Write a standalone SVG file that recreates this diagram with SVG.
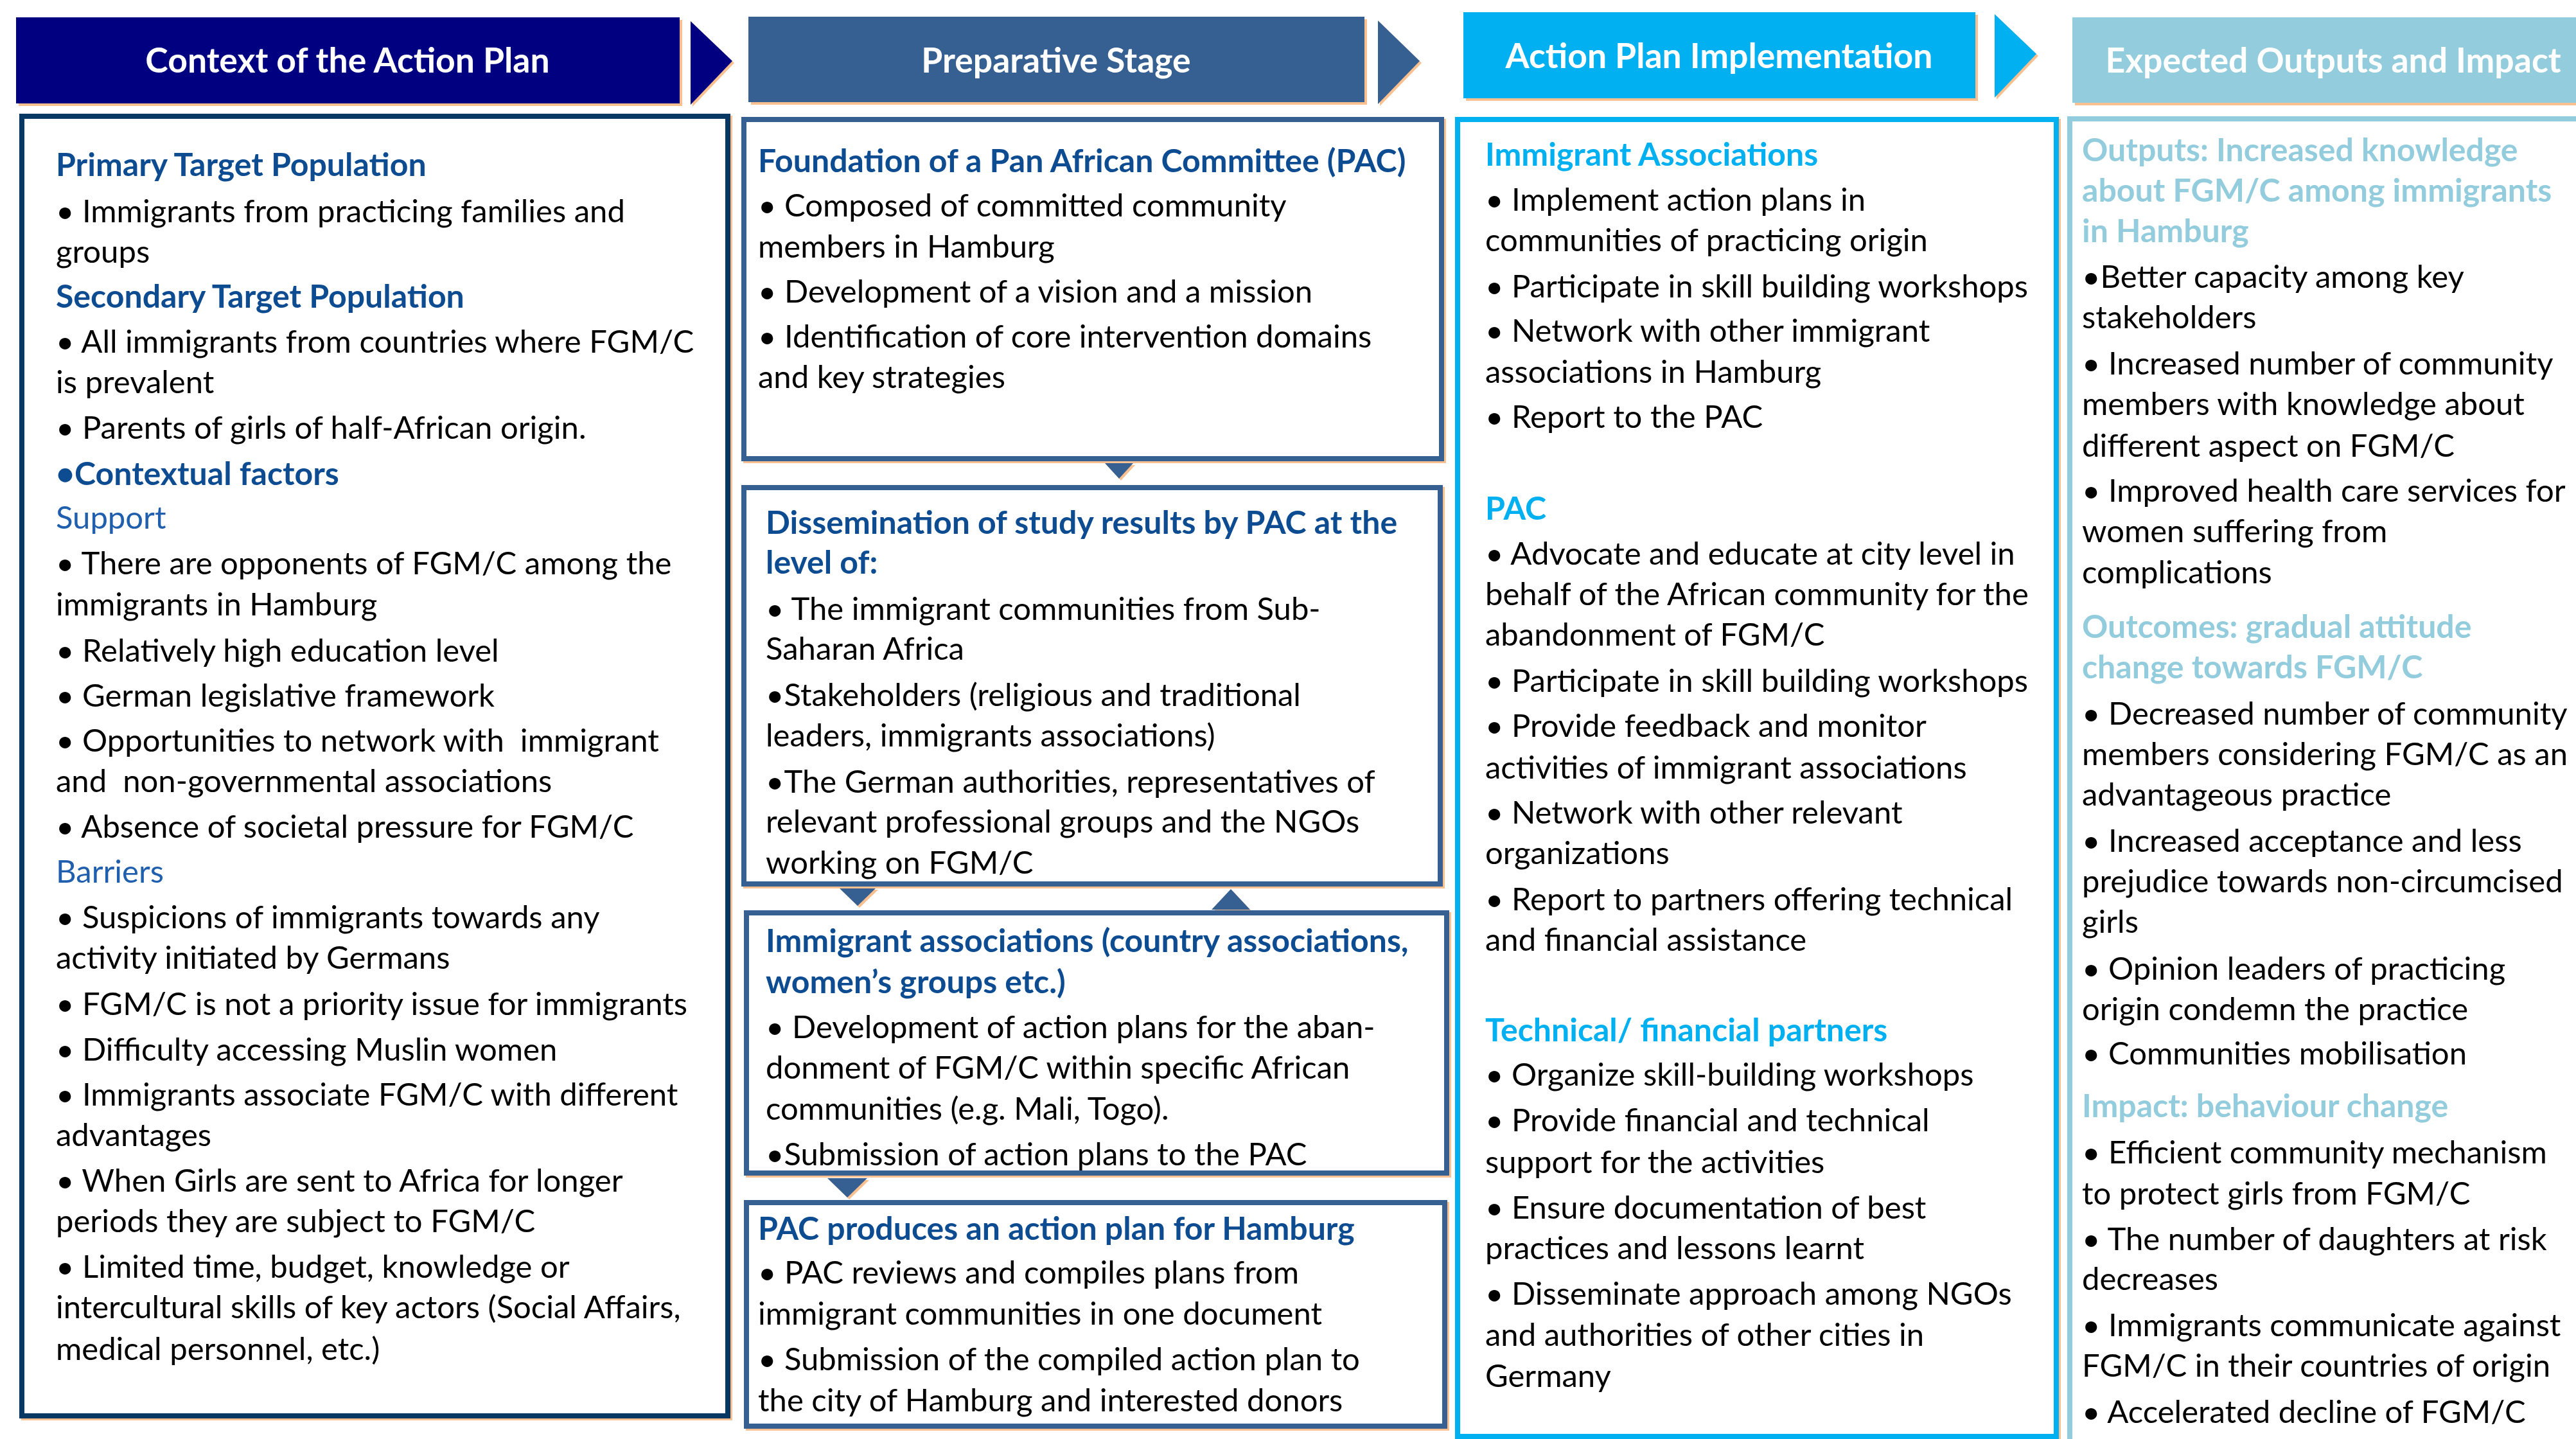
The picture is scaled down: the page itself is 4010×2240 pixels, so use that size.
<svg xmlns="http://www.w3.org/2000/svg" width="4010" height="2240" viewBox="0 0 4010 2240">
<style>
.hd{font-family:Lato,"Liberation Sans",sans-serif;font-weight:700;font-size:53.5px;fill:#fff;text-anchor:middle}
.sh{fill:#FAC090}
.box{fill:#fff;stroke-width:8}
.c{font-family:Lato,"Liberation Sans",sans-serif;font-size:49px;fill:#000}
.cb{font-family:Lato,"Liberation Sans",sans-serif;font-size:50px;font-weight:700;fill:#0E4C92}
.cs{font-family:Lato,"Liberation Sans",sans-serif;font-size:49px;fill:#1F5FAD}
.b3{font-family:Lato,"Liberation Sans",sans-serif;font-size:50px;font-weight:700;fill:#00B0F0}
.b4{font-family:Lato,"Liberation Sans",sans-serif;font-size:50px;font-weight:700;fill:#93CDDD}
</style>
<rect width="4010" height="2240" fill="#fff"/>

<g id="header-context">
<rect class="sh" x="29" y="31" width="1033" height="134"/>
<rect x="25" y="27" width="1033" height="134" fill="#000080"/>
<text class="hd" x="541" y="113">Context of the Action Plan</text>
</g>
<g id="header-preparative">
<rect class="sh" x="1169" y="30" width="959" height="133"/>
<rect x="1165" y="26" width="959" height="133" fill="#376092"/>
<text class="hd" x="1644" y="113">Preparative Stage</text>
</g>
<g id="header-implementation">
<rect class="sh" x="2282" y="23" width="797" height="134"/>
<rect x="2278" y="19" width="797" height="134" fill="#00B0F0"/>
<text class="hd" x="2676" y="106">Action Plan Implementation</text>
</g>
<g id="header-outputs">
<rect class="sh" x="3230" y="31" width="800" height="133"/>
<rect x="3226" y="27" width="800" height="133" fill="#93CDDD"/>
<text class="hd" x="3632" y="113">Expected Outputs and Impact</text>
</g>

<g id="connectors">
<polygon class="sh" points="1078,36 1143,98 1078,166"/>
<polygon points="1075,33 1140,95 1075,163" fill="#000080"/>
<polygon class="sh" points="2148,35 2213,98 2148,165"/>
<polygon points="2145,32 2210,95 2145,162" fill="#376092"/>
<polygon class="sh" points="3108,25 3173,87 3108,155"/>
<polygon points="3105,22 3170,84 3105,152" fill="#00B0F0"/>
<polygon class="sh" points="1723,724 1767,724 1745,748"/>
<polygon points="1720,721 1764,721 1742,745" fill="#376092"/>
<polygon class="sh" points="1309,1385 1367,1385 1338,1413"/>
<polygon points="1306,1382 1364,1382 1335,1410" fill="#376092"/>
<polygon class="sh" points="1889,1419 1949,1419 1919,1387"/>
<polygon points="1886,1416 1946,1416 1916,1384" fill="#376092"/>
<polygon class="sh" points="1291,1837 1353,1837 1322,1867"/>
<polygon points="1288,1834 1350,1834 1319,1864" fill="#376092"/>
</g>

<g id="context-box">
<rect class="sh" x="33" y="180" width="1107" height="2031"/>
<rect class="box" x="34" y="181" width="1099" height="2023" stroke="#073763"/>
<text class="cb" x="87" y="274">Primary Target Population</text>
<text class="c" x="87" y="346">• Immigrants from practicing families and</text>
<text class="c" x="87" y="409">groups</text>
<text class="cb" x="87" y="479">Secondary Target Population</text>
<text class="c" x="87" y="549">• All immigrants from countries where FGM/C</text>
<text class="c" x="87" y="612">is prevalent</text>
<text class="c" x="87" y="683">• Parents of girls of half-African origin.</text>
<text class="cb" x="87" y="755">•Contextual factors</text>
<text class="cs" x="87" y="823">Support</text>
<text class="c" x="87" y="894">• There are opponents of FGM/C among the</text>
<text class="c" x="87" y="958">immigrants in Hamburg</text>
<text class="c" x="87" y="1030">• Relatively high education level</text>
<text class="c" x="87" y="1100">• German legislative framework</text>
<text class="c" x="87" y="1170">• Opportunities to network with &#160;immigrant</text>
<text class="c" x="87" y="1233">and &#160;non-governmental associations</text>
<text class="c" x="87" y="1304">• Absence of societal pressure for FGM/C</text>
<text class="cs" x="87" y="1374">Barriers</text>
<text class="c" x="87" y="1445">• Suspicions of immigrants towards any</text>
<text class="c" x="87" y="1508">activity initiated by Germans</text>
<text class="c" x="87" y="1580">• FGM/C is not a priority issue for immigrants</text>
<text class="c" x="87" y="1651">• Difficulty accessing Muslin women</text>
<text class="c" x="87" y="1721">• Immigrants associate FGM/C with different</text>
<text class="c" x="87" y="1784">advantages</text>
<text class="c" x="87" y="1855">• When Girls are sent to Africa for longer</text>
<text class="c" x="87" y="1918">periods they are subject to FGM/C</text>
<text class="c" x="87" y="1989">• Limited time, budget, knowledge or</text>
<text class="c" x="87" y="2052">intercultural skills of key actors (Social Affairs,</text>
<text class="c" x="87" y="2117">medical personnel, etc.)</text>
</g>

<g id="pac-foundation">
<rect class="sh" x="1157" y="185" width="1094" height="536"/>
<rect class="box" x="1158" y="186" width="1086" height="528" stroke="#376092"/>
<text class="cb" x="1180" y="268">Foundation of a Pan African Committee (PAC)</text>
<text class="c" x="1180" y="337">• Composed of committed community</text>
<text class="c" x="1180" y="401">members in Hamburg</text>
<text class="c" x="1180" y="471">• Development of a vision and a mission</text>
<text class="c" x="1180" y="541">• Identification of core intervention domains</text>
<text class="c" x="1180" y="604">and key strategies</text>
</g>

<g id="dissemination">
<rect class="sh" x="1157" y="758" width="1092" height="625"/>
<rect class="box" x="1158" y="759" width="1084" height="617" stroke="#376092"/>
<text class="cb" x="1192" y="831">Dissemination of study results by PAC at the</text>
<text class="cb" x="1192" y="893">level of:</text>
<text class="c" x="1192" y="965">• The immigrant communities from Sub-</text>
<text class="c" x="1192" y="1027">Saharan Africa</text>
<text class="c" x="1192" y="1099">•Stakeholders (religious and traditional</text>
<text class="c" x="1192" y="1162">leaders, immigrants associations)</text>
<text class="c" x="1192" y="1234">•The German authorities, representatives of</text>
<text class="c" x="1192" y="1296">relevant professional groups and the NGOs</text>
<text class="c" x="1192" y="1360">working on FGM/C</text>
</g>

<g id="immigrant-associations">
<rect class="sh" x="1161" y="1420" width="1098" height="413"/>
<rect class="box" x="1162" y="1421" width="1090" height="405" stroke="#376092"/>
<text class="cb" x="1192" y="1482">Immigrant associations (country associations,</text>
<text class="cb" x="1192" y="1546">women’s groups etc.)</text>
<text class="c" x="1192" y="1616">• Development of action plans for the aban-</text>
<text class="c" x="1192" y="1679">donment of FGM/C within specific African</text>
<text class="c" x="1192" y="1743">communities (e.g. Mali, Togo).</text>
<text class="c" x="1192" y="1814">•Submission of action plans to the PAC</text>
</g>

<g id="pac-action-plan">
<rect class="sh" x="1161" y="1871" width="1095" height="356"/>
<rect class="box" x="1162" y="1872" width="1087" height="348" stroke="#376092"/>
<text class="cb" x="1180" y="1930">PAC produces an action plan for Hamburg</text>
<text class="c" x="1180" y="1998">• PAC reviews and compiles plans from</text>
<text class="c" x="1180" y="2062">immigrant communities in one document</text>
<text class="c" x="1180" y="2133">• Submission of the compiled action plan to</text>
<text class="c" x="1180" y="2197">the city of Hamburg and interested donors</text>
</g>

<g id="implementation-box">
<rect class="sh" x="2268" y="185" width="940" height="2058"/>
<rect class="box" x="2269" y="186" width="932" height="2050" stroke="#00B0F0"/>
<text class="b3" x="2312" y="258">Immigrant Associations</text>
<text class="c" x="2312" y="328">• Implement action plans in</text>
<text class="c" x="2312" y="391">communities of practicing origin</text>
<text class="c" x="2312" y="463">• Participate in skill building workshops</text>
<text class="c" x="2312" y="532">• Network with other immigrant</text>
<text class="c" x="2312" y="596">associations in Hamburg</text>
<text class="c" x="2312" y="666">• Report to the PAC</text>
<text class="b3" x="2312" y="809">PAC</text>
<text class="c" x="2312" y="879">• Advocate and educate at city level in</text>
<text class="c" x="2312" y="942">behalf of the African community for the</text>
<text class="c" x="2312" y="1005">abandonment of FGM/C</text>
<text class="c" x="2312" y="1077">• Participate in skill building workshops</text>
<text class="c" x="2312" y="1147">• Provide feedback and monitor</text>
<text class="c" x="2312" y="1212">activities of immigrant associations</text>
<text class="c" x="2312" y="1282">• Network with other relevant</text>
<text class="c" x="2312" y="1345">organizations</text>
<text class="c" x="2312" y="1417">• Report to partners offering technical</text>
<text class="c" x="2312" y="1480">and financial assistance</text>
<text class="b3" x="2312" y="1621">Technical/ financial partners</text>
<text class="c" x="2312" y="1690">• Organize skill-building workshops</text>
<text class="c" x="2312" y="1761">• Provide financial and technical</text>
<text class="c" x="2312" y="1826">support for the activities</text>
<text class="c" x="2312" y="1897">• Ensure documentation of best</text>
<text class="c" x="2312" y="1960">practices and lessons learnt</text>
<text class="c" x="2312" y="2031">• Disseminate approach among NGOs</text>
<text class="c" x="2312" y="2095">and authorities of other cities in</text>
<text class="c" x="2312" y="2159">Germany</text>
</g>

<g id="outputs-box">
<rect class="sh" x="3221" y="184" width="900" height="2100"/>
<rect class="box" x="3222" y="185" width="900" height="2100" stroke="#93CDDD"/>
<text class="b4" x="3241" y="251">Outputs: Increased knowledge</text>
<text class="b4" x="3241" y="314">about FGM/C among immigrants</text>
<text class="b4" x="3241" y="377">in Hamburg</text>
<text class="c" x="3241" y="448">•Better capacity among key</text>
<text class="c" x="3241" y="511">stakeholders</text>
<text class="c" x="3241" y="583">• Increased number of community</text>
<text class="c" x="3241" y="646">members with knowledge about</text>
<text class="c" x="3241" y="711">different aspect on FGM/C</text>
<text class="c" x="3241" y="781">• Improved health care services for</text>
<text class="c" x="3241" y="844">women suffering from</text>
<text class="c" x="3241" y="908">complications</text>
<text class="b4" x="3241" y="993">Outcomes: gradual attitude</text>
<text class="b4" x="3241" y="1056">change towards FGM/C</text>
<text class="c" x="3241" y="1128">• Decreased number of community</text>
<text class="c" x="3241" y="1191">members considering FGM/C as an</text>
<text class="c" x="3241" y="1254">advantageous practice</text>
<text class="c" x="3241" y="1326">• Increased acceptance and less</text>
<text class="c" x="3241" y="1389">prejudice towards non-circumcised</text>
<text class="c" x="3241" y="1452">girls</text>
<text class="c" x="3241" y="1525">• Opinion leaders of practicing</text>
<text class="c" x="3241" y="1588">origin condemn the practice</text>
<text class="c" x="3241" y="1657">• Communities mobilisation</text>
<text class="b4" x="3241" y="1739">Impact: behaviour change</text>
<text class="c" x="3241" y="1811">• Efficient community mechanism</text>
<text class="c" x="3241" y="1875">to protect girls from FGM/C</text>
<text class="c" x="3241" y="1946">• The number of daughters at risk</text>
<text class="c" x="3241" y="2008">decreases</text>
<text class="c" x="3241" y="2080">• Immigrants communicate against</text>
<text class="c" x="3241" y="2143">FGM/C in their countries of origin</text>
<text class="c" x="3241" y="2215">• Accelerated decline of FGM/C</text>
</g>
</svg>
